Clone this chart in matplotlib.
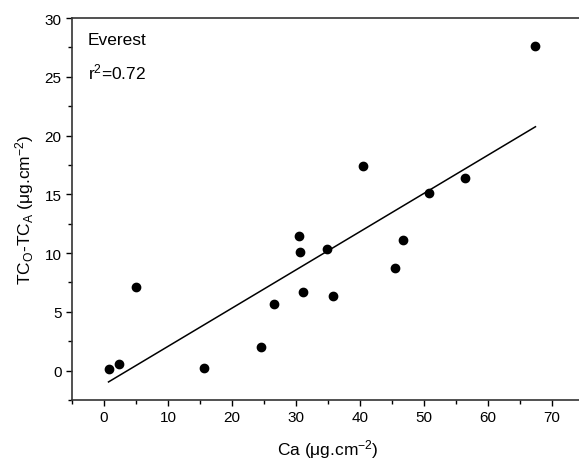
import numpy as np
import matplotlib.pyplot as plt
from matplotlib.ticker import MultipleLocator

plt.rcParams['font.family'] = ['Liberation Sans', 'DejaVu Sans']
plt.rcParams['mathtext.fontset'] = 'custom'
plt.rcParams['mathtext.rm'] = 'Liberation Sans'
plt.rcParams['mathtext.it'] = 'Liberation Sans'

# Ca vs TC_O - TC_A, Everest samples
ca = [0.7, 2.35, 5.06, 15.6, 24.5, 26.5, 30.4, 30.6, 31.1, 34.9, 35.7,
      45.4, 46.7, 40.5, 50.7, 56.4, 67.4]
tc_diff = [0.1, 0.55, 7.14, 0.26, 2.05, 5.69, 11.43, 10.1, 6.69, 10.38, 6.35,
           8.7, 11.1, 17.4, 15.1, 16.36, 27.6]
site = 'Everest'
r2_text = 'r$^{\\mathrm{2}}$=0.72'

ca = np.array(ca)
tc_diff = np.array(tc_diff)

fig = plt.figure(figsize=(5.79, 4.64), dpi=100)
ax = fig.add_axes([0.1244, 0.1358, 1.0088 - 0.1244, 0.959 - 0.1358])

ax.plot(ca, tc_diff, 'o', color='black', markersize=6)

# linear fit
slope, icpt = np.polyfit(ca, tc_diff, 1)
xf = np.array([ca.min(), ca.max()])
ax.plot(xf, slope * xf + icpt, color='black', lw=1.1)

ax.set_xlim(-5, 75)
ax.set_ylim(-2.5, 30)
ax.xaxis.set_major_locator(MultipleLocator(10))
ax.xaxis.set_minor_locator(MultipleLocator(5))
ax.yaxis.set_major_locator(MultipleLocator(5))
ax.yaxis.set_minor_locator(MultipleLocator(2.5))
ax.tick_params(which='major', direction='out', length=4.5, width=1, labelsize=11, pad=3)
ax.tick_params(which='minor', direction='out', length=3, width=1)
for s in ax.spines.values():
    s.set_linewidth(1.2)
    s.set_color('#333333')

ax.set_xlabel('Ca (μg.cm$^{\\mathrm{-2}}$)', fontsize=12.5, labelpad=9)
ax.set_ylabel('TC$_{\\mathrm{O}}$-TC$_{\\mathrm{A}}$ (μg.cm$^{\\mathrm{-2}}$)', fontsize=12.5, labelpad=6)

ax.text(0.031, 0.945, site, transform=ax.transAxes, fontsize=12.5, va='center')
ax.text(0.031, 0.86, r2_text, transform=ax.transAxes, fontsize=12.5, va='center')

fig.savefig('out.png', dpi=100)
